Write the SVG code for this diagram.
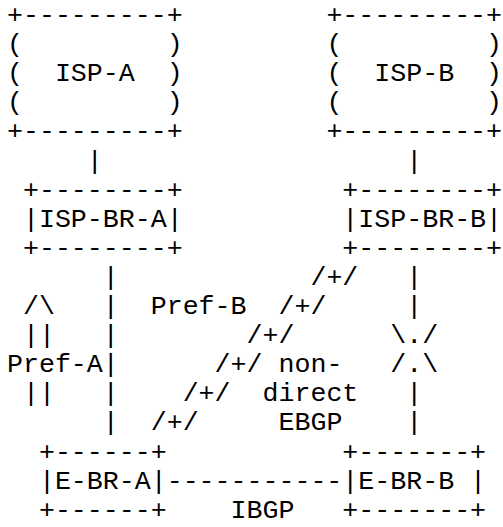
<svg xmlns="http://www.w3.org/2000/svg" width="503" height="527" viewBox="0 0 503 527">
  <style>
    text { font-family: "Liberation Mono", "DejaVu Sans Mono", monospace; font-size: 26.62px; fill: #000; white-space: pre; }
  </style>
  <rect width="503" height="527" fill="#fff"/>

  <!-- character grid: column c at x = 7.0 + 15.97*c, row n baseline at y = 23.0 + 29.1*n -->

  <g id="isp-a">
    <text x="7.00" y="23.0">+---------+</text>
    <text x="7.00" y="52.1">(</text><text x="166.70" y="52.1">)</text>
    <text x="7.00" y="81.2">(</text><text x="54.91" y="81.2">ISP-A</text><text x="166.70" y="81.2">)</text>
    <text x="7.00" y="110.3">(</text><text x="166.70" y="110.3">)</text>
    <text x="7.00" y="139.4">+---------+</text>
  </g>

  <g id="isp-b">
    <text x="326.40" y="23.0">+---------+</text>
    <text x="326.40" y="52.1">(</text><text x="486.10" y="52.1">)</text>
    <text x="326.40" y="81.2">(</text><text x="374.31" y="81.2">ISP-B</text><text x="486.10" y="81.2">)</text>
    <text x="326.40" y="110.3">(</text><text x="486.10" y="110.3">)</text>
    <text x="326.40" y="139.4">+---------+</text>
  </g>

  <g id="isp-br-a">
    <text x="22.97" y="197.6">+--------+</text>
    <text x="22.97" y="226.7">|ISP-BR-A|</text>
    <text x="22.97" y="255.8">+--------+</text>
  </g>

  <g id="isp-br-b">
    <text x="342.37" y="197.6">+--------+</text>
    <text x="342.37" y="226.7">|ISP-BR-B|</text>
    <text x="342.37" y="255.8">+--------+</text>
  </g>

  <g id="e-br-a">
    <text x="38.94" y="459.5">+------+</text>
    <text x="38.94" y="488.6">|E-BR-A|</text>
    <text x="38.94" y="517.7">+------+</text>
  </g>

  <g id="e-br-b">
    <text x="342.37" y="459.5">+-------+</text>
    <text x="342.37" y="488.6">|E-BR-B |</text>
    <text x="342.37" y="517.7">+-------+</text>
  </g>

  <g id="connectors">
    <!-- ISP to ISP border routers -->
    <text x="86.85" y="168.5">|</text>
    <text x="406.25" y="168.5">|</text>

    <!-- ISP-BR-A down to E-BR-A -->
    <text x="102.82" y="284.9">|</text>
    <text x="102.82" y="314.0">|</text>
    <text x="102.82" y="343.1">|</text>
    <text x="102.82" y="372.2">|</text>
    <text x="102.82" y="401.3">|</text>
    <text x="102.82" y="430.4">|</text>

    <!-- Pref-A arrow -->
    <text x="22.97" y="314.0">/\</text>
    <text x="22.97" y="343.1">||</text>
    <text x="7.00" y="372.2">Pref-A</text>
    <text x="22.97" y="401.3">||</text>

    <!-- non-direct EBGP diagonal -->
    <text x="310.43" y="284.9">/+/</text>
    <text x="278.49" y="314.0">/+/</text>
    <text x="246.55" y="343.1">/+/</text>
    <text x="214.61" y="372.2">/+/</text>
    <text x="182.67" y="401.3">/+/</text>
    <text x="150.73" y="430.4">/+/</text>
    <text x="150.73" y="314.0">Pref-B</text>
    <text x="278.49" y="372.2">non-</text>
    <text x="262.52" y="401.3">direct</text>
    <text x="278.49" y="430.4">EBGP</text>

    <!-- ISP-BR-B down to E-BR-B, broken -->
    <text x="406.25" y="284.9">|</text>
    <text x="406.25" y="314.0">|</text>
    <text x="390.28" y="343.1">\./</text>
    <text x="390.28" y="372.2">/.\</text>
    <text x="406.25" y="401.3">|</text>
    <text x="406.25" y="430.4">|</text>

    <!-- IBGP session -->
    <text x="166.70" y="488.6">-----------</text>
    <text x="230.58" y="517.7">IBGP</text>
  </g>
</svg>
